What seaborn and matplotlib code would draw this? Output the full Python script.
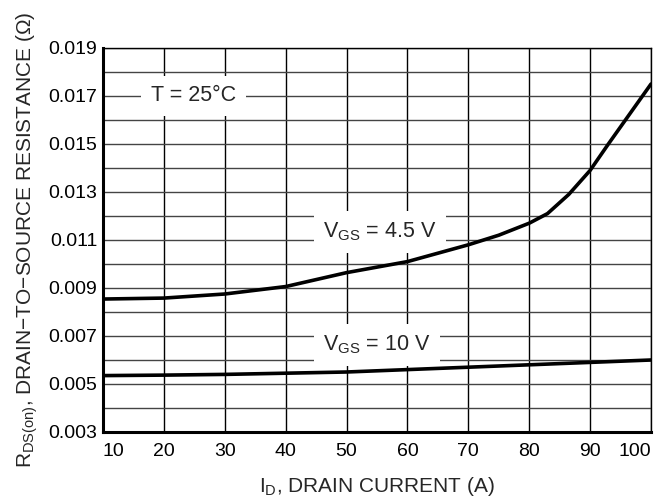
import matplotlib
matplotlib.use('Agg')

import pandas as pd
import matplotlib.pyplot as plt
from matplotlib.ticker import MultipleLocator
import seaborn as sns

# drain current (A) and on-resistance (ohm)
id_45 = [10, 20, 30, 40, 50, 60, 70, 75, 80, 83, 86.5, 90, 93, 96.5, 100]
rds_45 = [0.00854, 0.00858, 0.00875, 0.00906, 0.00964, 0.0101, 0.0108, 0.0112,
          0.0117, 0.0121, 0.0129, 0.0139, 0.0150, 0.01625, 0.0175]
id_10 = [10, 20, 30, 40, 50, 60, 70, 80, 90, 100]
rds_10 = [0.00535, 0.00537, 0.0054, 0.00545, 0.0055, 0.0056, 0.0057, 0.0058, 0.0059, 0.0060]

x_ticks = [10, 20, 30, 40, 50, 60, 70, 80, 90, 100]
y_ticks = [0.003, 0.005, 0.007, 0.009, 0.011, 0.013, 0.015, 0.017, 0.019]

df = pd.concat([
    pd.DataFrame({'id': id_45, 'rds': rds_45, 'vgs': '4.5 V'}),
    pd.DataFrame({'id': id_10, 'rds': rds_10, 'vgs': '10 V'}),
])

sns.set_style('white')
plt.rcParams['font.family'] = ['Liberation Sans', 'DejaVu Sans']
plt.rcParams['mathtext.fontset'] = 'custom'
plt.rcParams['mathtext.rm'] = 'Liberation Sans'
plt.rcParams['mathtext.it'] = 'Liberation Sans'

fig, ax = plt.subplots(figsize=(6.72, 5.04), dpi=100)
fig.subplots_adjust(left=103/672, right=651/672, top=1-48/504, bottom=1-432/504)

sns.lineplot(data=df, x='id', y='rds', units='vgs', estimator=None, color='black',
             linewidth=2.6, ax=ax, zorder=5, sort=False)

ax.set_xlim(10, 100)
ax.set_ylim(0.003, 0.019)
ax.set_xticks(x_ticks)
ax.set_xticklabels([str(v) for v in x_ticks])
ax.set_yticks(y_ticks)
ax.set_yticklabels([f'{v:.3f}' for v in y_ticks])
ax.yaxis.set_minor_locator(MultipleLocator(0.001))
ax.tick_params(axis='both', which='both', length=0, labelsize=14, colors='black')
ax.tick_params(axis='x', pad=8)
ax.tick_params(axis='y', pad=4)
xlabels = ax.get_xticklabels()
xlabels[0].set_ha('left')
xlabels[-1].set_ha('right')

ax.grid(True, axis='x', color='black', linewidth=1.0)
ax.grid(True, axis='y', which='both', color='#444444', linewidth=1.0)
ax.set_axisbelow(True)

for side in ['top', 'right']:
    ax.spines[side].set_linewidth(1.0)
    ax.spines[side].set_color('black')
for side in ['left', 'bottom']:
    ax.spines[side].set_linewidth(2.2)
    ax.spines[side].set_color('black')

box = dict(facecolor='white', edgecolor='none', pad=7)
ax.text(24.9, 0.0170, 'T = 25°C', fontsize=15.5, ha='center', va='center', bbox=box, zorder=4)
ax.text(55.5, 0.01133, r'V$_{\mathrm{GS}}$ = 4.5 V', fontsize=15.5, ha='center', va='center',
        bbox=box, zorder=4)
ax.text(55.0, 0.00663, r'V$_{\mathrm{GS}}$ = 10 V', fontsize=15.5, ha='center', va='center',
        bbox=box, zorder=4)

ax.set_xlabel(r'I$_{\mathrm{D}}$, DRAIN CURRENT (A)', fontsize=15, labelpad=11)
ax.set_ylabel(r'R$_{\mathrm{DS(on)}}$, DRAIN−TO−SOURCE RESISTANCE (Ω)', fontsize=15, labelpad=6)

plt.savefig('out.png', dpi=100)
